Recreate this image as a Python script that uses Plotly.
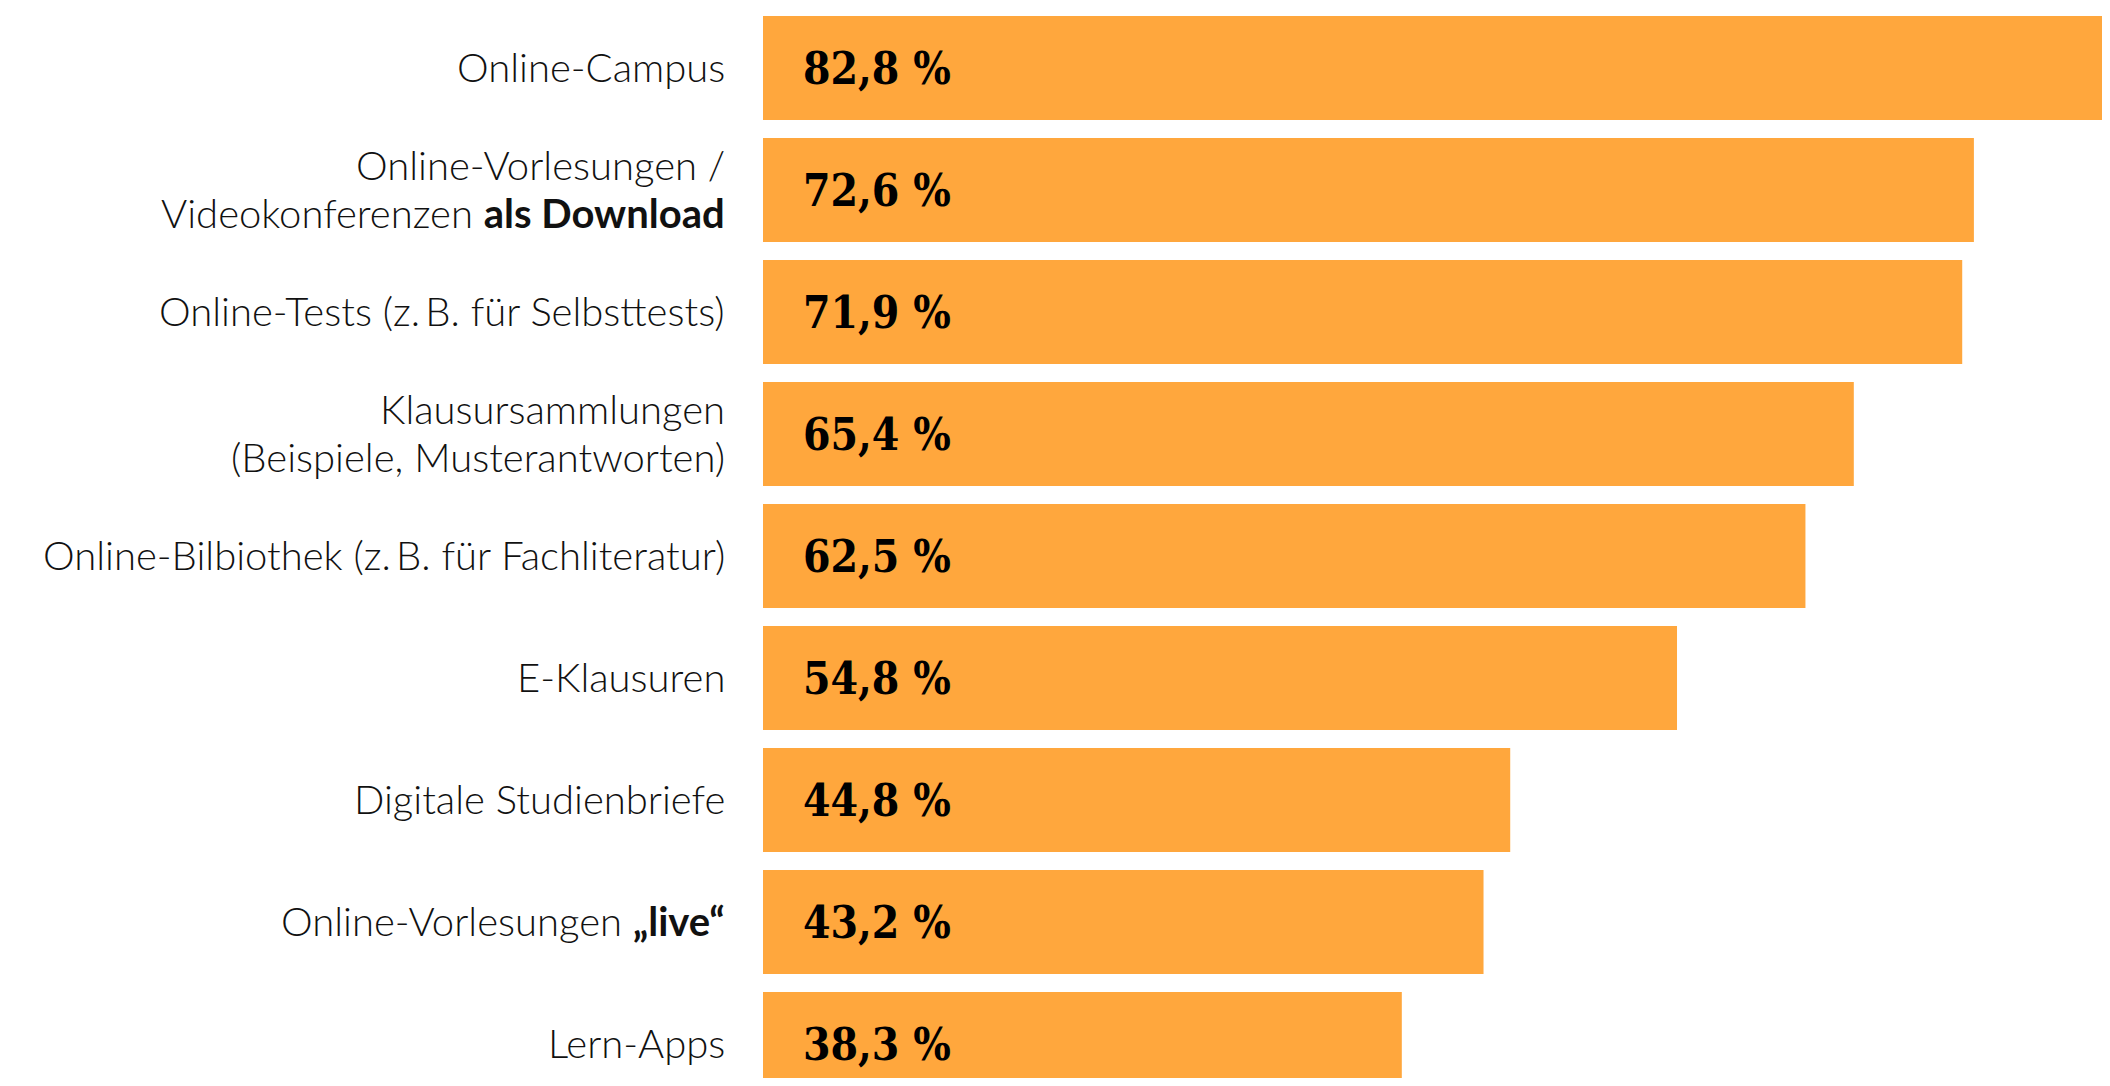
import plotly.graph_objects as go

# Survey categories (top to bottom) and share in percent
categories = [
    "Online-Campus",
    "Online-Vorlesungen /<br>Videokonferenzen <b>als Download</b>",
    "Online-Tests (z.\u2009B. für Selbsttests)",
    "Klausursammlungen<br>(Beispiele, Musterantworten)",
    "Online-Bilbiothek (z.\u2009B. für Fachliteratur)",
    "E-Klausuren",
    "Digitale Studienbriefe",
    "Online-Vorlesungen <b>„live“</b>",
    "Lern-Apps",
]
values = [82.8, 72.6, 71.9, 65.4, 62.5, 54.8, 44.8, 43.2, 38.3]

value_labels = [f"{v:.1f}".replace(".", ",") + " %" for v in values]

label_font = dict(family="Lato", size=40, color="#111111", weight=300)
value_font = dict(family="DejaVu Serif Condensed, DejaVu Serif", size=44, color="#000000")
line_gap = 48

fig = go.Figure()
fig.add_trace(go.Bar(
    x=values, y=categories, orientation="h",
    marker=dict(color="#FFA73D", line=dict(width=0)),
    hoverinfo="skip",
))

for cat, lab in zip(categories, value_labels):
    # value at the start of the bar
    fig.add_annotation(
        x=0, y=cat, text=f"<b>{lab}</b>", showarrow=False,
        xanchor="left", xshift=38, yshift=0,
        font=value_font,
    )
    # category label left of the bar, one annotation per line
    lines = cat.split("<br>")
    n = len(lines)
    for i, line in enumerate(lines):
        fig.add_annotation(
            x=0, y=cat, text=line, showarrow=False,
            xanchor="right", xshift=-36,
            yshift=((n - 1) / 2 - i) * line_gap + 1,
            font=label_font,
        )

fig.update_layout(
    width=2102, height=1070,
    margin=dict(l=755, r=0, t=0, b=0),
    paper_bgcolor="white", plot_bgcolor="white",
    bargap=0.148, showlegend=False,
)
fig.update_xaxes(range=[0, 80.76], visible=False, fixedrange=True)
fig.update_yaxes(
    type="category", range=[8.2787, -0.4918],
    showgrid=False, zeroline=False, showline=False,
    showticklabels=False, automargin=False,
)

fig.write_html("out.html")
